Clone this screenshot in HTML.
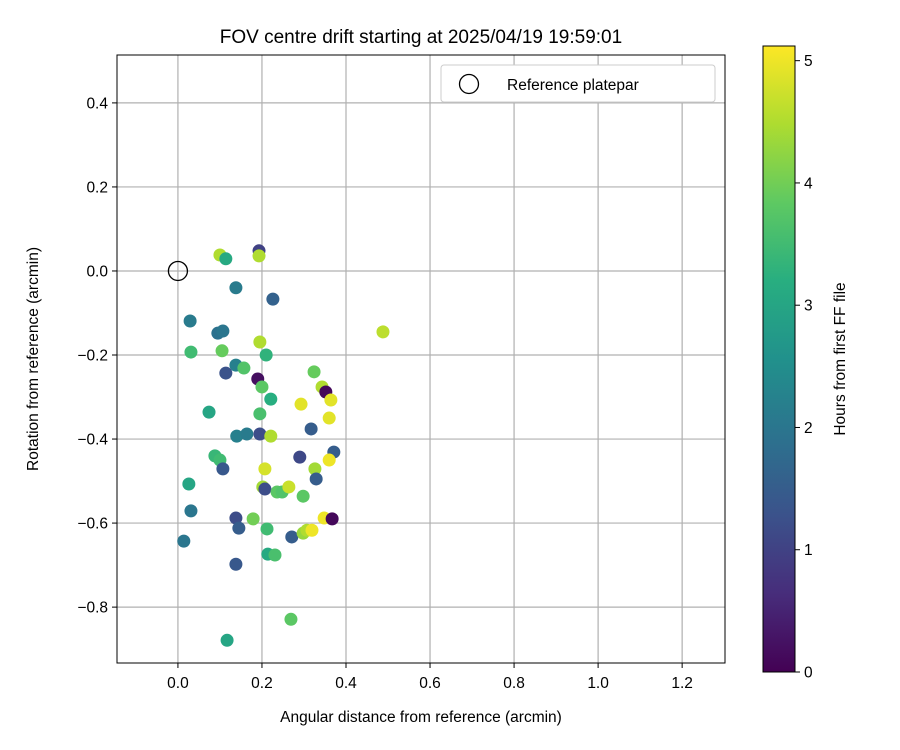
<!DOCTYPE html>
<html><head><meta charset="utf-8">
<style>
html,body{margin:0;padding:0;background:#fff;}
svg{display:block;font-family:"Liberation Sans","DejaVu Sans",sans-serif;}
</style></head>
<body>
<svg id="chart" width="900" height="750">
<defs>
<linearGradient id="vir" x1="0" y1="1" x2="0" y2="0">
<stop offset="0" stop-color="#440154"/><stop offset="0.125" stop-color="#472d7b"/>
<stop offset="0.25" stop-color="#3b528b"/><stop offset="0.375" stop-color="#2c728e"/>
<stop offset="0.5" stop-color="#21918c"/><stop offset="0.625" stop-color="#28ae80"/>
<stop offset="0.75" stop-color="#5ec962"/><stop offset="0.875" stop-color="#addc30"/>
<stop offset="1" stop-color="#fde725"/>
</linearGradient>
</defs>
<text x="421" y="43" font-size="19" text-anchor="middle">FOV centre drift starting at 2025/04/19 19:59:01</text>
<g id="grid"></g>
<g id="pts"></g>
<rect x="117" y="55" width="608" height="608" fill="none" stroke="#000" stroke-width="1"/>
<g id="ticks"></g>
<text x="421" y="722" font-size="15.5" text-anchor="middle">Angular distance from reference (arcmin)</text>
<text transform="translate(38,359) rotate(-90)" font-size="15.5" text-anchor="middle">Rotation from reference (arcmin)</text>
<g>
<rect x="441" y="65" width="274" height="37" rx="3" fill="#fff" stroke="#ccc"/>
<circle cx="469" cy="84" r="9.5" fill="none" stroke="#000" stroke-width="1.3"/>
<text x="507" y="90" font-size="15.5">Reference platepar</text>
</g>
<rect x="763" y="46" width="32" height="626" fill="url(#vir)" stroke="#000" stroke-width="1"/>
<g id="cbticks"></g>
<text transform="translate(845,359) rotate(-90)" font-size="15.5" text-anchor="middle">Hours from first FF file</text>
</svg>
<script>
const xs=[0.100,0.114,0.193,0.193,0.138,0.226,0.029,0.095,0.107,0.031,0.105,0.195,0.210,0.138,0.157,0.114,0.190,0.200,0.221,0.074,0.195,0.324,0.343,0.352,0.293,0.364,0.360,0.488,0.317,0.140,0.164,0.195,0.221,0.371,0.088,0.100,0.107,0.290,0.360,0.326,0.329,0.207,0.026,0.202,0.207,0.236,0.248,0.264,0.298,0.031,0.138,0.179,0.145,0.212,0.271,0.298,0.307,0.319,0.348,0.367,0.014,0.214,0.231,0.138,0.269,0.117];
const ys=[0.038,0.029,0.048,0.036,-0.040,-0.067,-0.119,-0.148,-0.143,-0.193,-0.190,-0.169,-0.200,-0.224,-0.231,-0.243,-0.257,-0.276,-0.305,-0.336,-0.340,-0.240,-0.276,-0.288,-0.317,-0.307,-0.350,-0.145,-0.376,-0.393,-0.388,-0.388,-0.393,-0.431,-0.440,-0.450,-0.471,-0.443,-0.450,-0.471,-0.495,-0.471,-0.507,-0.514,-0.519,-0.526,-0.526,-0.514,-0.536,-0.571,-0.588,-0.590,-0.612,-0.614,-0.633,-0.624,-0.617,-0.617,-0.588,-0.590,-0.643,-0.674,-0.676,-0.698,-0.829,-0.879];
const hours=[4.5,3.1,1.0,4.5,2.1,1.6,2.1,1.9,2.0,3.5,3.9,4.5,3.3,2.2,3.7,1.3,0.2,3.8,3.2,3.0,3.6,3.9,4.5,0.1,4.9,4.9,4.9,4.6,1.5,2.2,2.1,1.2,4.5,1.5,3.4,3.5,1.4,1.1,5.0,4.4,1.5,4.8,3.0,4.4,1.2,3.8,3.7,4.7,3.8,2.0,1.2,4.0,1.5,3.5,1.5,4.3,4.5,5.0,5.0,0.1,2.0,3.1,3.6,1.4,3.8,3.0];
const xTicks=[0.0,0.2,0.4,0.6,0.8,1.0,1.2];
const yTicks=[0.4,0.2,0.0,-0.2,-0.4,-0.6,-0.8];
const cbTicks=[0,1,2,3,4,5];
const X0=-0.145,X1=1.302,Y0=-0.933,Y1=0.514,HMAX=5.12;
const sx=v=>117+(v-X0)/(X1-X0)*608;
const sy=v=>663-(v-Y0)/(Y1-Y0)*608;
const sc=v=>672-v/HMAX*626;
const vir=[[68,1,84],[71,45,123],[59,82,139],[44,114,142],[33,145,140],[40,174,128],[94,201,98],[173,220,48],[253,231,37]];
function col(h){let t=Math.max(0,Math.min(1,h/HMAX))*8;let i=Math.min(7,Math.floor(t)),f=t-i;const a=vir[i],b=vir[i+1];return 'rgb('+a.map((v,k)=>Math.round(v+(b[k]-v)*f)).join(',')+')';}
const NS='http://www.w3.org/2000/svg';
function mk(tag,attrs,parent){const e=document.createElementNS(NS,tag);for(const k in attrs)e.setAttribute(k,attrs[k]);parent.appendChild(e);return e;}
const grid=document.getElementById('grid'),ticks=document.getElementById('ticks'),pts=document.getElementById('pts'),cb=document.getElementById('cbticks');
const fmt=v=>(v<0?'\u2212':'')+Math.abs(v).toFixed(1);
xTicks.forEach(v=>{const x=sx(v);
const g=mk('line',{x1:x,x2:x,y1:55,y2:663,stroke:'#b0b0b0','stroke-width':1.2},grid);

mk('line',{x1:x,x2:x,y1:663,y2:668,stroke:'#000'},ticks);
const t=mk('text',{x:x,y:688,'font-size':15.5,'text-anchor':'middle'},ticks);t.textContent=fmt(v);
});
yTicks.forEach(v=>{const y=sy(v);
const g=mk('line',{x1:117,x2:725,y1:y,y2:y,stroke:'#b0b0b0','stroke-width':1.2},grid);

mk('line',{x1:112,x2:117,y1:y,y2:y,stroke:'#000'},ticks);
const t=mk('text',{x:108,y:y+5.5,'font-size':15.5,'text-anchor':'end'},ticks);t.textContent=fmt(v);
});
mk('circle',{cx:sx(0),cy:sy(0),r:9.5,fill:'none',stroke:'#000','stroke-width':1.3},pts);
xs.forEach((x,i)=>{const c=mk('circle',{cx:sx(x),cy:sy(ys[i]),r:6.5,fill:col(hours[i])},pts);

});
cbTicks.forEach(v=>{const y=sc(v);
mk('line',{x1:795,x2:800,y1:y,y2:y,stroke:'#000'},cb);
const t=mk('text',{x:804,y:y+5.5,'font-size':15.5},cb);t.textContent=v;
});
</script>
</body></html>
